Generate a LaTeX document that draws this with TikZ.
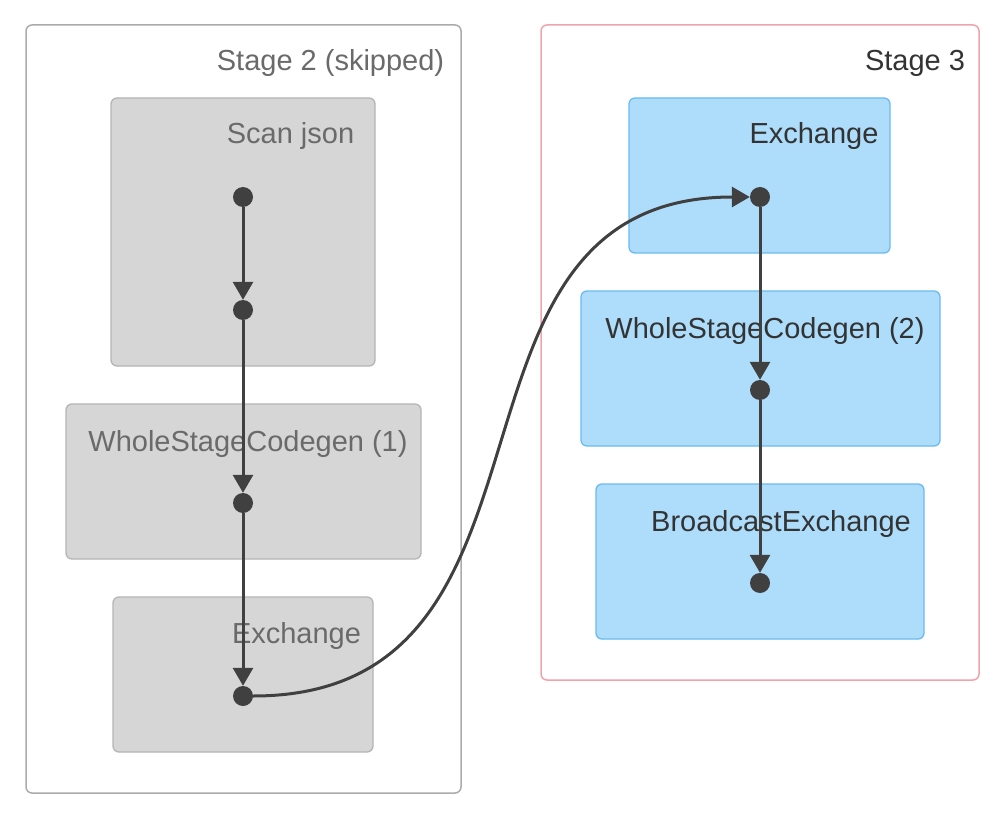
\documentclass[tikz,border=0pt]{standalone}
\usepackage{fontspec}
\setmainfont{Liberation Sans}
\usetikzlibrary{arrows.meta}
\definecolor{skipfill}{HTML}{D6D6D6}
\definecolor{skipdraw}{HTML}{B5B5B5}
\definecolor{skiptext}{HTML}{6A6A6A}
\definecolor{bluefill}{HTML}{ADDDFB}
\definecolor{bluedraw}{HTML}{6BBBF0}
\definecolor{darktext}{HTML}{333333}
\definecolor{stagegray}{HTML}{ABABAB}
\definecolor{stagepink}{HTML}{F0A3AD}
\definecolor{edgecol}{HTML}{404040}
\tikzset{
  stagebox/.style={rounded corners=6pt, line width=1.5pt, fill=white},
  skipbox/.style={rounded corners=6pt, line width=1.3pt, draw=skipdraw, fill=skipfill},
  runbox/.style={rounded corners=6pt, line width=1.3pt, draw=bluedraw, fill=bluefill},
  lbl/.style={anchor=base, font=\fontsize{29}{32}\selectfont, inner sep=0pt},
  dot/.style={circle, fill=edgecol, minimum size=20pt, inner sep=0pt},
  edge/.style={draw=edgecol, line width=3pt, -{Triangle[length=18pt,width=20pt]}}
}
\begin{document}
\begin{tikzpicture}[x=1pt,y=-1pt]
\useasboundingbox[fill=white] (0,0) rectangle (1006,818);
% stages
\draw[stagebox, draw=stagegray] (26,25) rectangle (461,793);
\draw[stagebox, draw=stagepink] (541,25) rectangle (979,680);
\node[lbl, text=skiptext] (s2) at (330.5,71) {Stage 2 (skipped)};
\node[lbl, text=darktext] (s3) at (915,71) {Stage 3};
% left boxes
\draw[skipbox] (111,98) rectangle (375,366);
\draw[skipbox] (66,404) rectangle (421,559);
\draw[skipbox] (113,597) rectangle (373,752);
\node[lbl, text=skiptext] (l1) at (290.5,144) {Scan json};
\node[lbl, text=skiptext] (l2) at (248,451) {WholeStageCodegen (1)};
\node[lbl, text=skiptext] (l3) at (296.5,643) {Exchange};
% right boxes
\draw[runbox] (629,98) rectangle (890,253);
\draw[runbox] (581,291) rectangle (940,446);
\draw[runbox] (596,484) rectangle (924,639);
\node[lbl, text=darktext] (r1) at (814,144) {Exchange};
\node[lbl, text=darktext] (r2) at (765,338) {WholeStageCodegen (2)};
\node[lbl, text=darktext] (r3) at (781,531) {BroadcastExchange};
% dots
\node[dot] (a1) at (243,197) {};
\node[dot] (a2) at (243,310) {};
\node[dot] (a3) at (243,503) {};
\node[dot] (a4) at (243,696) {};
\node[dot] (b1) at (760,197) {};
\node[dot] (b2) at (760,390) {};
\node[dot] (b3) at (760,583) {};
% edges
\draw[edge] (a1) -- (a2);
\draw[edge] (a2) -- (a3);
\draw[edge] (a3) -- (a4);
\draw[edge] (a4) .. controls +(345,0) and +(-345,0) .. (b1);
\draw[edge] (b1) -- (b2);
\draw[edge] (b2) -- (b3);
\end{tikzpicture}
\end{document}
